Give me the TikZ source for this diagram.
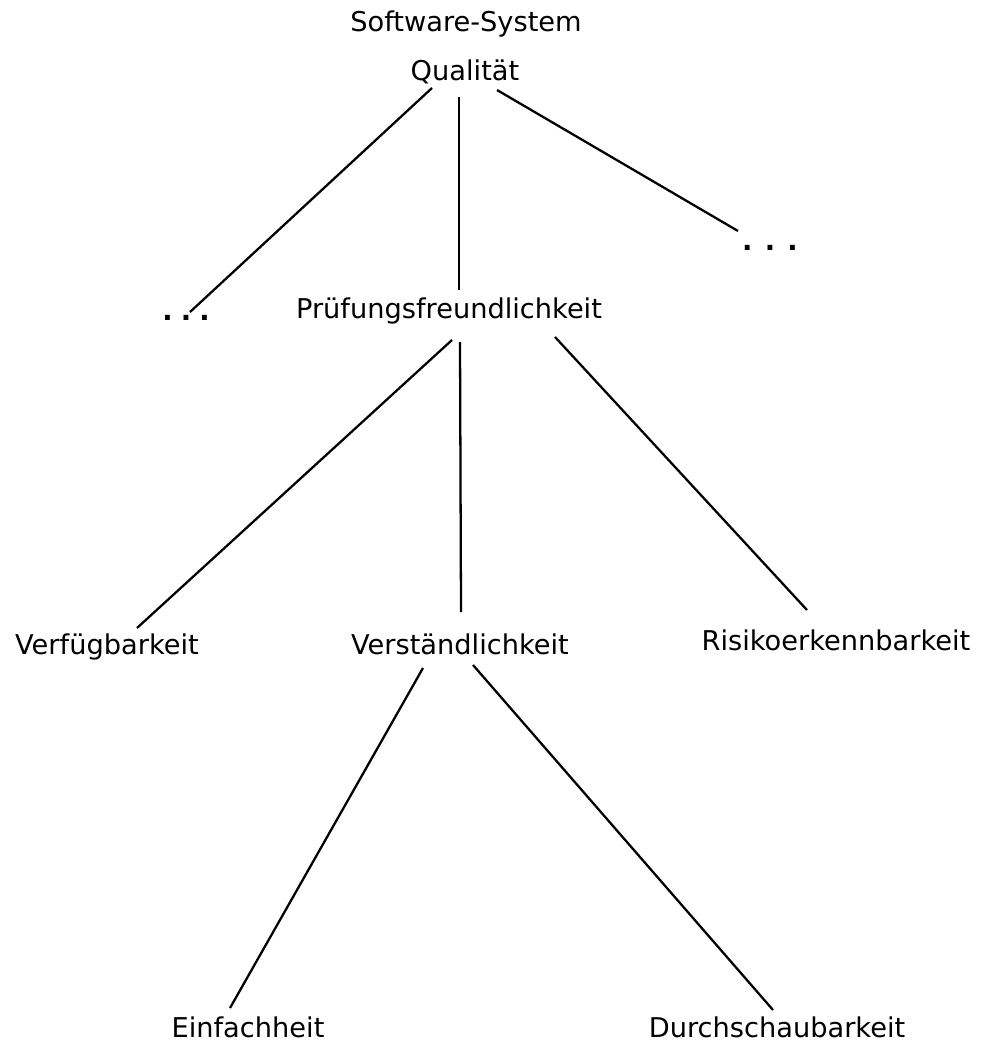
\documentclass[tikz,border=0pt]{standalone}
\usepackage{fontspec}
\setmainfont{DejaVu Sans}
\usepackage{tikz}
\usetikzlibrary{calc}

\begin{document}
\begin{tikzpicture}[x=0.02cm, y=-0.02cm,
    lbl/.style={anchor=base, inner sep=0pt, font=\fontsize{15.5}{18}\selectfont},
    dots/.style={lbl, font=\fontsize{15.5}{18}\selectfont\bfseries},
    link/.style={line width=1.3pt}]
    \useasboundingbox (0,0) rectangle (982,1050);
    % --- Root ---
    \node[lbl] (sys) at (466,32) {Software-System};
    \node[lbl] (qual) at (465,81) {Qualität};
    % --- Second level ---
    \node[dots] (dotsL) at (186,321) {.\hspace{0.3em}.\hspace{0.3em}.};
    \node[lbl] (prf) at (449,319) {Prüfungsfreundlichkeit};
    \node[dots] (dotsR) at (770,251) {.\hspace{0.45em}.\hspace{0.45em}.};
    % --- Third level ---
    \node[lbl] (vfg) at (107,654) {Verfügbarkeit};
    \node[lbl] (vst) at (460,654) {Verständlichkeit};
    \node[lbl] (rsk) at (836,650) {Risikoerkennbarkeit};
    % --- Fourth level ---
    \node[lbl] (einf) at (248,1037) {Einfachheit};
    \node[lbl] (drch) at (777,1037) {Durchschaubarkeit};
    % --- Links from Qualitaet ---
    \draw[link] ($(qual.base)+(-33,7)$) -- ($(dotsL.base)+(4,-9)$);
    \draw[link] ($(qual.base)+(-6,16)$) -- ($(prf.base)+(10,-29)$);
    \draw[link] ($(qual.base)+(32,9)$) -- ($(dotsR.base)+(-32,-20)$);
    % --- Links from Pruefungsfreundlichkeit ---
    \draw[link] ($(prf.base)+(3,21)$) -- ($(vfg.base)+(30,-26)$);
    \draw[link] ($(prf.base)+(11,23)$) -- ($(vst.base)+(1,-42)$);
    \draw[link] ($(prf.base)+(106,18)$) -- ($(rsk.base)+(-29,-40)$);
    % --- Links from Verstaendlichkeit ---
    \draw[link] ($(vst.base)+(-37,14)$) -- ($(einf.base)+(-18,-29)$);
    \draw[link] ($(vst.base)+(13,11)$) -- ($(drch.base)+(-4,-27)$);
\end{tikzpicture}
\end{document}
